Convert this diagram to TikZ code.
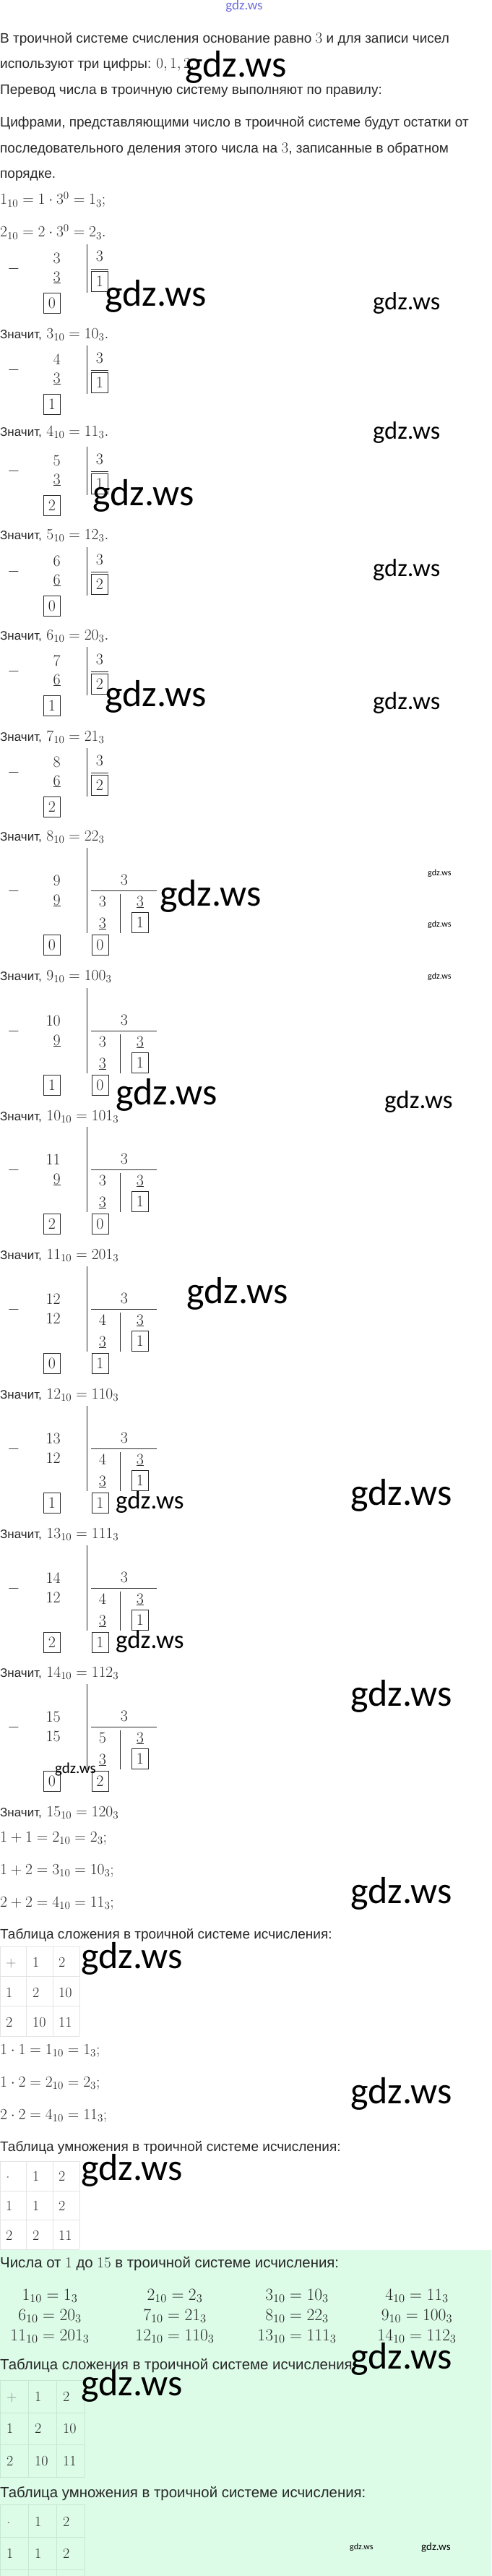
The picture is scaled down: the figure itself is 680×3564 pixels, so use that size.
\RequirePackage{fix-cm}
\documentclass[tikz,border=0pt]{standalone}
\usepackage[no-math]{fontspec}
\newfontfamily\txtfont{Liberation Sans}
\newfontfamily\wmfont{Carlito}
\definecolor{mint}{RGB}{220,252,232}
\definecolor{mintline}{RGB}{196,232,210}
\definecolor{cellline}{RGB}{228,228,228}
\definecolor{wmblue}{RGB}{110,110,220}
\definecolor{ink}{RGB}{40,40,40}
\newcommand\mth[1]{{\fontsize{21}{24}\selectfont$#1$}}
\newcommand\zn{{\txtfont\fontsize{17}{20}\selectfont Значит,}}
\tikzset{
  body/.style={anchor=base west, inner sep=0pt, text=ink, font=\txtfont\fontsize{19}{23}\selectfont},
  bodybig/.style={body, font=\txtfont\fontsize{20.4}{24}\selectfont},
  eqn/.style={anchor=base west, inner sep=0pt, text=ink, font=\fontsize{21.5}{26}\selectfont},
  digit/.style={inner sep=0pt, text=ink, font=\fontsize{22}{26}\selectfont},
  boxdigit/.style={digit, draw=ink, line width=1pt, minimum width=23pt, minimum height=28pt},
  rulel/.style={draw=ink, line width=1pt},
  cell/.style={anchor=base west, inner sep=0pt, text=ink, font=\fontsize{20}{24}\selectfont},
  listeq/.style={anchor=base, inner sep=0pt, text=ink, font=\fontsize{23.5}{28}\selectfont},
  wm/.style={anchor=base west, inner sep=0pt, text=black, font=\wmfont\fontsize{#1}{#1}\selectfont},
}
\begin{document}
\begin{tikzpicture}[x=1pt, y=-1pt]
  \useasboundingbox (0,0) rectangle (680,3564);
  \fill[mint] (0,3113) rectangle (680,3564);

  % intro
  \node[body] (intro1) at (0,60) {В троичной системе счисления основание равно \mth{3} и для записи чисел};
  \node[body] (intro2) at (0,95) {используют три цифры: \mth{0, 1, 2}.};
  \node[body] (rule1) at (0,131) {Перевод числа в троичную систему выполняют по правилу:};
  \node[body] (rule2) at (0,176) {Цифрами, представляющими число в троичной системе будут остатки от};
  \node[body] (rule3) at (0,212) {последовательного деления этого числа на \mth{3}, записанные в обратном};
  \node[body] (rule4) at (0,247) {порядке.};
  \node[eqn] (one) at (0,283) {$1_{10} = 1\cdot 3^0 = 1_3;$};
  \node[eqn] (two) at (0,328) {$2_{10} = 2\cdot 3^0 = 2_3.$};

  % one division step
  \foreach \yy/\na/\nb/\ra/\qa [count=\k from 3] in {338/3/3/0/1, 478/4/3/1/1, 618/5/3/2/1, 757/6/6/0/2, 895/7/6/1/2, 1035/8/6/2/2}{
    \node[digit] (mi\k) at (19,\yy+34) {$-$};
    \node[digit, anchor=base east] (dd\k) at (84,\yy+26) {$\na$};
    \node[digit, anchor=base east] (sb\k) at (84,\yy+52) {$\underline{\nb}$};
    \node[boxdigit] (rm\k) at (72,\yy+81) {$\ra$};
    \draw[rulel] (120,\yy) -- (120,\yy+67);
    \node[digit, anchor=base] (dv\k) at (138,\yy+24) {$3$};
    \draw[rulel] (126,\yy+34) -- (150,\yy+34);
    \node[boxdigit] (qt\k) at (138,\yy+51) {$\qa$};
  }

  % two division steps
  \foreach \yy/\na/\nb/\ra/\pa/\rb [count=\k from 9] in {1173/9/\underline{9}/0/3/0, 1367/10/\underline{9}/1/3/0, 1559/11/\underline{9}/2/3/0, 1752/12/12/0/4/1, 1945/13/12/1/4/1, 2138/14/12/2/4/1, 2330/15/15/0/5/2}{
    \node[digit] (mi\k) at (19,\yy+60) {$-$};
    \node[digit, anchor=base east] (dd\k) at (84,\yy+52) {$\na$};
    \node[digit, anchor=base east] (sb\k) at (84,\yy+79) {$\nb$};
    \node[boxdigit] (rm\k) at (72,\yy+134) {$\ra$};
    \draw[rulel] (120,\yy) -- (120,\yy+118);
    \node[digit, anchor=base] (dv\k) at (172,\yy+51) {$3$};
    \draw[rulel] (126,\yy+59) -- (217,\yy+59);
    \node[digit, anchor=base] (qa\k) at (142,\yy+81) {$\pa$};
    \node[digit, anchor=base] (sc\k) at (142,\yy+111) {$\underline{3}$};
    \node[boxdigit] (rn\k) at (138.5,\yy+134) {$\rb$};
    \draw[rulel] (166,\yy+64) -- (166,\yy+118);
    \node[digit, anchor=base] (qb\k) at (194,\yy+81) {$\underline{3}$};
    \node[boxdigit] (qt\k) at (194,\yy+103.5) {$1$};
  }

  % results
  \foreach \yy/\eq [count=\k from 3] in {468/{3_{10} = 10_3.}, 603/{4_{10} = 11_3.}, 746/{5_{10} = 12_3.}, 885/{6_{10} = 20_3.}, 1025/{7_{10} = 21_3}, 1163/{8_{10} = 22_3}, 1356/{9_{10} = 100_3}, 1550/{10_{10} = 101_3}, 1742/{11_{10} = 201_3}, 1935/{12_{10} = 110_3}, 2128/{13_{10} = 111_3}, 2320/{14_{10} = 112_3}, 2513/{15_{10} = 120_3}}
    \node[eqn] (zn\k) at (0,\yy) {\zn\ $\eq$};

  % addition
  \node[eqn] (s11) at (0,2548) {$1+1 = 2_{10} = 2_3;$};
  \node[eqn] (s12) at (0,2593) {$1+2 = 3_{10} = 10_3;$};
  \node[eqn] (s22) at (0,2638) {$2+2 = 4_{10} = 11_3;$};
  \node[body] (addcap) at (0,2682) {Таблица сложения в троичной системе исчисления:};
  \foreach \i in {0,1,2,3} \draw[cellline] (0,2693+41.33*\i) -- (110,2693+41.33*\i);
  \foreach \i in {0,1,2,3} \draw[cellline] (36.67*\i,2693) -- (36.67*\i,2817);
  \node[cell, text=gray] (a00) at (8,2721) {$+$};
  \node[cell] (a01) at (45,2721) {$1$};
  \node[cell] (a02) at (81,2721) {$2$};
  \node[cell] (a10) at (8,2763) {$1$};
  \node[cell] (a11) at (45,2763) {$2$};
  \node[cell] (a12) at (81,2763) {$10$};
  \node[cell] (a20) at (8,2804) {$2$};
  \node[cell] (a21) at (45,2804) {$10$};
  \node[cell] (a22) at (81,2804) {$11$};

  % multiplication
  \node[eqn] (p11) at (0,2842) {$1\cdot 1 = 1_{10} = 1_3;$};
  \node[eqn] (p12) at (0,2887) {$1\cdot 2 = 2_{10} = 2_3;$};
  \node[eqn] (p22) at (0,2932) {$2\cdot 2 = 4_{10} = 11_3;$};
  \node[body] (mulcap) at (0,2976) {Таблица умножения в троичной системе исчисления:};
  \foreach \i in {0,1,2,3} \draw[cellline] (0,2990+40.67*\i) -- (110,2990+40.67*\i);
  \foreach \i in {0,1,2,3} \draw[cellline] (36.67*\i,2990) -- (36.67*\i,3112);
  \node[cell, text=gray] (m00) at (8,3017) {$\cdot$};
  \node[cell] (m01) at (45,3017) {$1$};
  \node[cell] (m02) at (81,3017) {$2$};
  \node[cell] (m10) at (8,3058) {$1$};
  \node[cell] (m11) at (45,3058) {$1$};
  \node[cell] (m12) at (81,3058) {$2$};
  \node[cell] (m20) at (8,3099) {$2$};
  \node[cell] (m21) at (45,3099) {$2$};
  \node[cell] (m22) at (81,3099) {$11$};

  % summary
  \node[bodybig] (listcap) at (0,3137) {Числа от \mth{1} до \mth{15} в троичной системе исчисления:};
  \foreach \x/\y/\eq [count=\k] in {69/3182/{1_{10} = 1_3}, 242/3182/{2_{10} = 2_3}, 411/3182/{3_{10} = 10_3}, 577/3182/{4_{10} = 11_3},
      69/3210/{6_{10} = 20_3}, 242/3210/{7_{10} = 21_3}, 411/3210/{8_{10} = 22_3}, 577/3210/{9_{10} = 100_3},
      69/3238/{11_{10} = 201_3}, 242/3238/{12_{10} = 110_3}, 411/3238/{13_{10} = 111_3}, 577/3238/{14_{10} = 112_3}}
    \node[listeq] (ls\k) at (\x,\y) {$\eq$};
  \node[bodybig] (addcap2) at (0,3278) {Таблица сложения в троичной системе исчисления:};
  \foreach \i in {0,1,2,3} \draw[mintline] (0,3293+44.67*\i) -- (117,3293+44.67*\i);
  \foreach \i in {0,1,2,3} \draw[mintline] (39*\i,3293) -- (39*\i,3427);
  \node[cell, text=gray] (b00) at (9,3322) {$+$};
  \node[cell] (b01) at (48,3322) {$1$};
  \node[cell] (b02) at (87,3322) {$2$};
  \node[cell] (b10) at (9,3366) {$1$};
  \node[cell] (b11) at (48,3366) {$2$};
  \node[cell] (b12) at (87,3366) {$10$};
  \node[cell] (b20) at (9,3411) {$2$};
  \node[cell] (b21) at (48,3411) {$10$};
  \node[cell] (b22) at (87,3411) {$11$};
  \node[bodybig] (mulcap2) at (0,3455) {Таблица умножения в троичной системе исчисления:};
  \foreach \i in {0,1,2} \draw[mintline] (0,3465+45*\i) -- (117,3465+45*\i);
  \foreach \i in {0,1,2,3} \draw[mintline] (39*\i,3465) -- (39*\i,3564);
  \node[cell, text=gray] (c00) at (9,3495) {$\cdot$};
  \node[cell] (c01) at (48,3495) {$1$};
  \node[cell] (c02) at (87,3495) {$2$};
  \node[cell] (c10) at (9,3539) {$1$};
  \node[cell] (c11) at (48,3539) {$1$};
  \node[cell] (c12) at (87,3539) {$2$};

  % watermarks
  \node[wm=19, text=wmblue, anchor=base] (wmtop) at (338,14) {gdz.ws};
  \foreach \x/\y/\s [count=\w] in {256/107/52, 145/423/52, 516/428/34.5, 516/607/34.5, 128/699/52, 516/797/34.5,
      145/977/52, 516/981/34.5, 221/1253/52, 592/1211/12, 592/1282/12, 592/1354/12, 160/1528/52, 532/1533/35,
      258/1803/52, 160/2087/35, 485/2082/52, 160/2280/35, 485/2360/52, 76/2453/21, 485/2633/52, 112/2723/52,
      485/2910/52, 112/3016/52, 485/3277/52, 112/3314/52, 484/3527/12, 583/3528/15}
    \node[wm=\s] (wm\w) at (\x,\y) {gdz.ws};
\end{tikzpicture}
\end{document}
